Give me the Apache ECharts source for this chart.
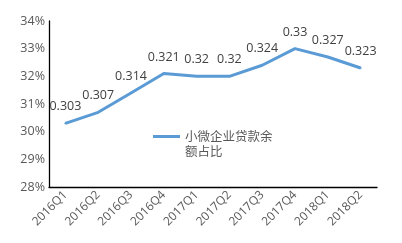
<!DOCTYPE html>
<html><head><meta charset="utf-8">
<script src="https://cdn.jsdelivr.net/npm/echarts@6/dist/echarts.min.js"></script>
<style>html,body{margin:0;padding:0;background:#fff}#c{width:402px;height:243px}</style>
</head><body><div id="c"></div>
<script>
const categories = ['2016Q1','2016Q2','2016Q3','2016Q4','2017Q1','2017Q2','2017Q3','2017Q4','2018Q1','2018Q2'];
const ratio = [0.303,0.307,0.314,0.321,0.32,0.32,0.324,0.33,0.327,0.323];
const seriesName = '小微企业贷款余\n额占比';
const font = '"Noto Sans CJK SC", "Open Sans", sans-serif';
const chart = echarts.init(document.getElementById('c'));
chart.setOption({
  animation: false,
  textStyle: { fontFamily: font },
  grid: { left: 49, right: 25, top: 21, bottom: 56 },
  legend: {
    left: 148, top: 109, itemWidth: 27, itemHeight: 3, itemGap: 5,
    icon: 'rect',
    formatter: name => ' \n' + name,
    textStyle: { color: '#595959', fontSize: 12.5, lineHeight: 15, fontFamily: font },
    data: [{ name: seriesName, itemStyle: { color: '#5b9bd5', opacity: 1 } }]
  },
  xAxis: {
    type: 'category', data: categories, boundaryGap: true,
    axisLine: { lineStyle: { color: '#000', width: 1.3 } },
    axisTick: { show: false },
    axisLabel: { rotate: 45, color: '#595959', fontSize: 12, margin: 6, interval: 0, fontFamily: '"Open Sans", sans-serif' }
  },
  yAxis: {
    type: 'value', min: 0.28, max: 0.34, interval: 0.01,
    axisLine: { show: true, lineStyle: { color: '#000', width: 1.3 } },
    axisTick: { show: false },
    splitLine: { show: false },
    axisLabel: { color: '#595959', fontSize: 12.5, margin: 4, fontFamily: '"Open Sans", sans-serif',
      formatter: v => Math.round(v * 100) + '%' }
  },
  series: [{
    name: seriesName, type: 'line', data: ratio,
    showSymbol: true, symbol: 'circle', symbolSize: 2,
    lineStyle: { color: '#5b9bd5', width: 3 },
    itemStyle: { color: '#5b9bd5', borderWidth: 0 },
    label: { show: true, position: 'top', distance: 9, color: '#404040', fontSize: 12.5, fontFamily: '"Open Sans", sans-serif',
      formatter: p => String(p.value) }
  }]
});
</script></body></html>
